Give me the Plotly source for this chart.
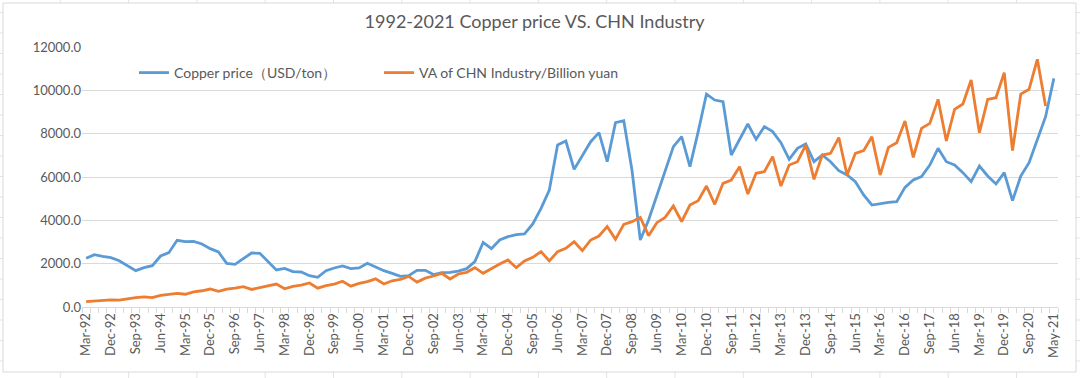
import plotly.graph_objects as go

# ---------------- data ----------------
MONTHS = ["Mar", "Jun", "Sep", "Dec"]
QUARTERS = [f"{m}-{y % 100:02d}" for y in range(1992, 2021) for m in MONTHS] + ["Mar-21", "May-21"]

COPPER = [
    2246, 2415, 2338, 2277, 2138, 1923, 1677, 1815, 1907, 2354,
    2508, 3077, 3015, 3030, 2907, 2692, 2538, 2015, 1969, 2231,
    2492, 2477, 2092, 1708, 1785, 1631, 1615, 1446, 1369, 1677,
    1800, 1892, 1769, 1800, 2015, 1831, 1677, 1554, 1415, 1446,
    1692, 1692, 1500, 1584, 1600, 1661, 1769, 2092, 2984, 2692,
    3092, 3246, 3338, 3369, 3831, 4553, 5400, 7476, 7661, 6353,
    7015, 7630, 8046, 6707, 8507, 8600, 6300, 3092, 4015, 5169,
    6353, 7400, 7861, 6476, 8092, 9830, 9553, 9476, 7015, 7707,
    8446, 7738, 8323, 8092, 7584, 6815, 7323, 7523, 6707, 7015,
    6707, 6292, 6092, 5784, 5169, 4707, 4784, 4830, 4861, 5523,
    5861, 6015, 6553, 7323, 6707, 6553, 6200, 5784, 6507, 6046,
    5677, 6200, 4907, 6046, 6661, 7707, 8784, 10553,
]

INDUSTRY = [
    246, 275, 310, 330, 320, 390, 430, 470, 430, 540,
    590, 630, 590, 700, 750, 830, 720, 820, 870, 940,
    810, 900, 990, 1060, 840, 950, 1010, 1110, 870, 990,
    1060, 1190, 960, 1090, 1170, 1300, 1060, 1210, 1270, 1410,
    1150, 1330, 1430, 1554, 1292, 1523, 1600, 1815, 1554, 1784,
    1985, 2169, 1815, 2123, 2292, 2554, 2123, 2554, 2707, 3015,
    2600, 3092, 3277, 3708, 3123, 3815, 3938, 4138, 3292, 3892,
    4138, 4661, 3938, 4707, 4907, 5584, 4738, 5707, 5861, 6476,
    5215, 6169, 6246, 6938, 5584, 6553, 6707, 7476, 5892, 7015,
    7092, 7815, 6092, 7092, 7215, 7861, 6092, 7369, 7584, 8584,
    6907, 8246, 8476, 9584, 7661, 9123, 9369, 10476, 8046, 9584,
    9661, 10815, 7215, 9830, 10046, 11430, 9276, None,
]

TICK_LABELS = QUARTERS[::3]
Y_TICKS = [0, 2000, 4000, 6000, 8000, 10000, 12000]

SERIES_NAMES = ["Copper price（USD/ton）", "VA of CHN Industry/Billion yuan"]
TITLE = "1992-2021 Copper price VS. CHN Industry"

# ---------------- layout constants ----------------
W, H = 1080, 378
ML, MR, MT, MB = 82, 22, 47, 71
PW, PH = W - ML - MR, H - MT - MB
FONT = "Lato"
TXT = "#595959"
GRID = "#d9d9d9"


def px_x(p):
    return (p - ML) / PW


def px_y(p):
    return (H - MB - p) / PH


xidx = list(range(len(QUARTERS)))
tickvals = [QUARTERS.index(t) for t in TICK_LABELS]

fig = go.Figure()
fig.add_trace(go.Scatter(x=xidx, y=COPPER, name=SERIES_NAMES[0], mode="lines",
                         line=dict(color="#5B9BD5", width=2.8), text=QUARTERS))
fig.add_trace(go.Scatter(x=xidx, y=INDUSTRY, name=SERIES_NAMES[1], mode="lines",
                         line=dict(color="#ED7D31", width=2.8), text=QUARTERS))

shapes = []
# spreadsheet cell grid behind the chart
cx = 60.3
while cx < W:
    shapes.append(dict(type="line", xref="paper", yref="paper", x0=px_x(cx), x1=px_x(cx),
                       y0=px_y(0), y1=px_y(H), line=dict(color="#e3e3e3", width=1), layer="below"))
    cx += 68.3
ry = 361
while ry > 0:
    shapes.append(dict(type="line", xref="paper", yref="paper", x0=px_x(0), x1=px_x(W),
                       y0=px_y(ry), y1=px_y(ry), line=dict(color="#e3e3e3", width=1), layer="below"))
    ry -= 20.5
# chart area frame
shapes.append(dict(type="rect", xref="paper", yref="paper", x0=px_x(3), x1=px_x(1076),
                   y0=px_y(372), y1=px_y(3), line=dict(color="#d9d9d9", width=1),
                   fillcolor="white", layer="below"))

fig.update_layout(
    width=W, height=H,
    margin=dict(l=ML, r=MR, t=MT, b=MB, pad=0),
    paper_bgcolor="white", plot_bgcolor="rgba(0,0,0,0)",
    font=dict(family=FONT, color=TXT, size=13),
    title=dict(text=TITLE, x=0.495, xref="container", xanchor="center",
               y=1 - 22 / H, yref="container", yanchor="middle",
               font=dict(family=FONT, size=18, color=TXT)),
    showlegend=True,
    legend=dict(orientation="h", x=px_x(134), y=px_y(73), xanchor="left", yanchor="middle",
                font=dict(family=FONT, size=14, color=TXT), bgcolor="rgba(0,0,0,0)",
                entrywidth=200, entrywidthmode="pixels"),
    shapes=shapes,
    xaxis=dict(range=[-0.5, len(QUARTERS) - 0.5], tickmode="array", tickvals=tickvals,
               ticktext=TICK_LABELS, tickangle=-90, ticks="", showgrid=False, zeroline=False,
               showline=True, linecolor="#d9d9d9", linewidth=1,
               tickfont=dict(family=FONT, size=13, color=TXT),
               minor=dict(ticks="outside", tick0=-0.5, dtick=1, ticklen=5, tickcolor="#d9d9d9",
                          showgrid=False)),
    yaxis=dict(range=[0, 12000], tickmode="array", tickvals=Y_TICKS, tickformat=".1f",
               showgrid=True, gridcolor=GRID, gridwidth=1, zeroline=False, showline=False,
               ticks="", tickfont=dict(family=FONT, size=13, color=TXT)),
)

fig.write_html("out.html",
               config={"displayModeBar": False},
               post_script="document.body.style.margin='0';document.body.style.overflow='hidden';")
